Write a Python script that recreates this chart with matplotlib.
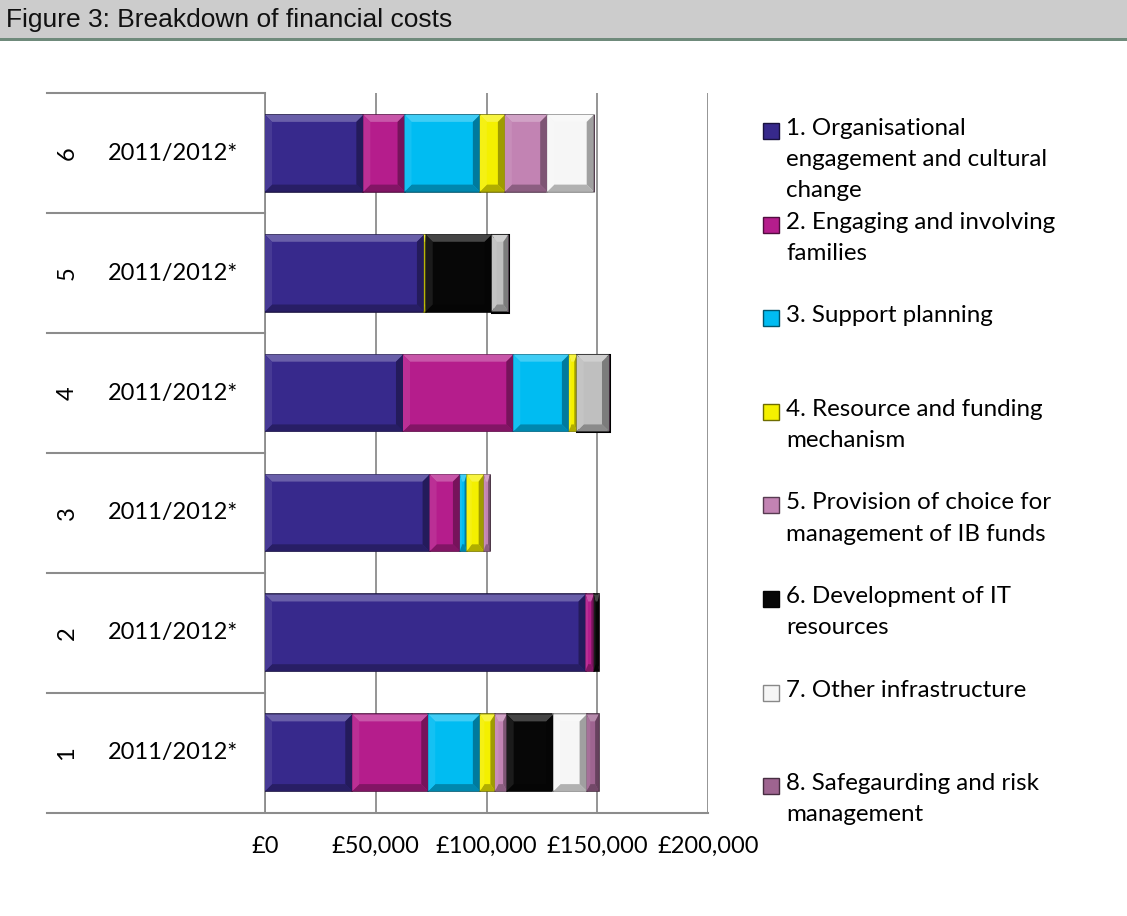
import numpy as np
import matplotlib
matplotlib.use('Agg')
from matplotlib import pyplot as plt
from matplotlib.patches import Rectangle, Polygon
from matplotlib.colors import to_rgb

# rows from bottom (1) to top (6)
row_numbers = ['1', '2', '3', '4', '5', '6']
row_years = ['2011/2012*'] * 6

series_names = ['1. Organisational\nengagement and cultural\nchange',
                '2. Engaging and involving\nfamilies',
                '3. Support planning',
                '4. Resource and funding\nmechanism',
                '5. Provision of choice for\nmanagement of IB funds',
                '6. Development of IT\nresources',
                '7. Other infrastructure',
                '8. Safegaurding and risk\nmanagement']

s1 = [39400, 144700, 74300, 62300, 71750, 44400]
s2 = [34300, 3750, 13700, 49800, 0, 18600]
s3 = [23300, 0, 3000, 25100, 0, 34000]
s4 = [6800, 0, 7800, 3500, 800, 11300]
s5 = [5300, 0, 2700, 0, 0, 19100]
s6 = [21100, 2500, 0, 0, 29800, 0]
s7 = [15000, 0, 0, 14600, 7500, 21000]
s8 = [5500, 0, 0, 0, 0, 0]
series = [s1, s2, s3, s4, s5, s6, s7, s8]

xticks = [0, 50000, 100000, 150000, 200000]
xtick_labels = ['£0', '£50,000', '£100,000', '£150,000', '£200,000']

colors = ['#37298c', '#b51d8c', '#00bcf2', '#f4f000', '#c283b3', '#070707', '#f6f6f6', '#9e6490']


def shade(c, f):
    r, g, b = to_rgb(c)
    if f >= 1:
        t = f - 1
        return (r + (1 - r) * t, g + (1 - g) * t, b + (1 - b) * t)
    return (r * f, g * f, b * f)


def bevel(ax, patch, fc, px=7):
    # fake the Excel bevel: light top/left, dark bottom/right
    x0, y0 = patch.get_x(), patch.get_y()
    w, h = patch.get_width(), patch.get_height()
    if w <= 0:
        return
    sx = ax.transData.transform((1, 0))[0] - ax.transData.transform((0, 0))[0]
    sy = ax.transData.transform((0, 1))[1] - ax.transData.transform((0, 0))[1]
    bx = min(px / sx, w * 0.3)
    by = px / sy
    x1, y1 = x0 + w, y0 + h
    pieces = [
        ([(x0, y1), (x1, y1), (x1 - bx, y1 - by), (x0 + bx, y1 - by)], shade(fc, 1.25)),
        ([(x0, y0), (x1, y0), (x1 - bx, y0 + by), (x0 + bx, y0 + by)], shade(fc, 0.72)),
        ([(x0, y0), (x0, y1), (x0 + bx, y1 - by), (x0 + bx, y0 + by)], shade(fc, 1.08)),
        ([(x1, y0), (x1, y1), (x1 - bx, y1 - by), (x1 - bx, y0 + by)], shade(fc, 0.65)),
    ]
    for pts, col in pieces:
        ax.add_patch(Polygon(pts, closed=True, facecolor=col, edgecolor='none', zorder=4))


W, H = 1127, 916
fig = plt.figure(figsize=(W / 100, H / 100), dpi=100)

# header band
fig.patches.append(Rectangle((0, 1 - 37.5 / H), 1, 37.5 / H, transform=fig.transFigure,
                             facecolor='#cccccc', edgecolor='none'))
fig.patches.append(Rectangle((0, 1 - 41 / H), 1, 3 / H, transform=fig.transFigure,
                             facecolor='#6f8a7b', edgecolor='none'))
fig.text(6 / W, 1 - 20 / H, 'Figure 3: Breakdown of financial costs', family='Liberation Sans',
         fontsize=19, va='center', ha='left', color='#111111')

ax = fig.add_axes([265 / W, 1 - 812.7 / H, 443 / W, (812.7 - 93.3) / H])
ax.set_xlim(0, 200000)
ax.set_ylim(-0.5, 5.5)

y = np.arange(len(row_numbers))
left = np.zeros(len(row_numbers))
for i, vals in enumerate(series):
    vals = np.array(vals, dtype=float)
    fcs = [colors[i]] * len(vals)
    ecs = ['#8a8a8a' if i == 6 else shade(colors[i], 0.45)] * len(vals)
    lws = [1.2] * len(vals)
    if i == 6:
        # rows 4 and 5: grey with a black frame in the original
        for r in (3, 4):
            fcs[r], ecs[r], lws[r] = '#bfbfbf', 'black', 2.2
    bars = ax.barh(y, vals, left=left, height=0.64, color=fcs, edgecolor=ecs,
                   linewidth=lws, zorder=3)
    for p, fc in zip(bars.patches, fcs):
        bevel(ax, p, fc)
    left += vals

ax.set_xticks(xticks)
ax.set_xticklabels(xtick_labels, family='Lato', fontsize=17)
ax.tick_params(axis='x', length=0, pad=17)
ax.set_yticks([])
ax.grid(axis='x', color='#8c8c8c', linewidth=1.3, zorder=0)
for s in ['top', 'right']:
    ax.spines[s].set_visible(False)
ax.spines['left'].set_color('#8c8c8c')
ax.spines['left'].set_linewidth(1.3)
ax.spines['bottom'].set_visible(False)

# category box on the left
ext = -218 / 443
ax.plot([ext, 1], [0, 0], transform=ax.transAxes, color='#8c8c8c', lw=1.5, clip_on=False)
for b in np.arange(0.5, 6, 1):
    yy = (b + 0.5) / 6
    ax.plot([ext, 0], [yy, yy], transform=ax.transAxes, color='#8c8c8c', lw=1.5, clip_on=False)

trans = ax.get_yaxis_transform()
for i in range(len(row_numbers)):
    ax.text(-198 / 443, y[i], row_numbers[i], transform=trans, rotation=90, family='Lato',
            fontsize=17, ha='center', va='center')
    ax.text(-92 / 443, y[i], row_years[i], transform=trans, family='Lato',
            fontsize=17, ha='center', va='center')

# legend
for i, name in enumerate(series_names):
    yc = 131 + 93.6 * i
    ec = '#888888' if i == 6 else shade(colors[i], 0.45)
    fig.patches.append(Rectangle((763 / W, 1 - (yc + 8) / H), 16 / W, 16 / H,
                                 transform=fig.transFigure, facecolor=colors[i],
                                 edgecolor=ec, linewidth=1))
    fig.text(786 / W, 1 - (yc - 13) / H, name, family='Lato', fontsize=17.4,
             va='top', ha='left', linespacing=1.6)

fig.savefig('out.png', dpi=100)
